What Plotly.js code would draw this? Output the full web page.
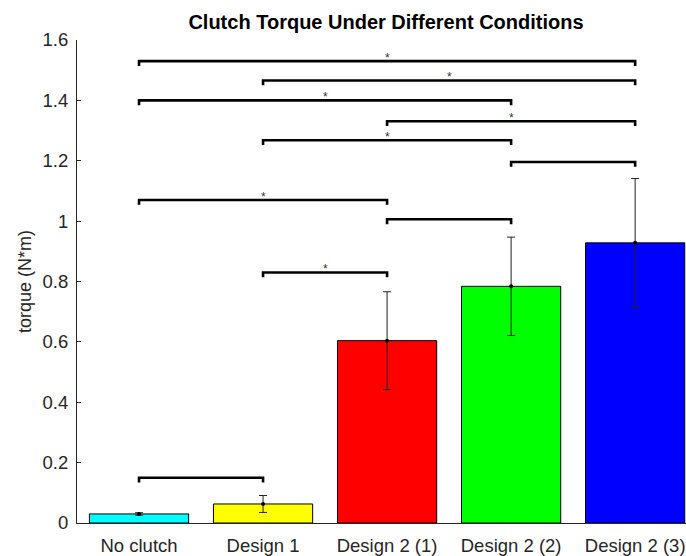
<!DOCTYPE html>
<html>
<head>
<meta charset="utf-8">
<script src="https://cdn.plot.ly/plotly-3.0.1.min.js"></script>
<style>
  html, body { margin: 0; padding: 0; background: #ffffff; overflow: hidden; }
  #chart { width: 686px; height: 556px; }
</style>
</head>
<body>
<div id="chart"></div>
<script>
// ---- data ----
const categories = ["No clutch", "Design 1", "Design 2 (1)", "Design 2 (2)", "Design 2 (3)"];
const positions = [1, 2, 3, 4, 5];
const meanTorque = [0.030, 0.063, 0.604, 0.784, 0.928];
const errTorque = [0.004, 0.028, 0.162, 0.163, 0.213];
const barColors = ["#00ffff", "#ffff00", "#ff0000", "#00ff00", "#0000ff"];

// significance brackets: [from category index, to category index]
const bracketFrom = [1, 2, 3, 1, 4, 2, 3, 1, 2, 1];
const bracketTo   = [2, 3, 4, 3, 5, 4, 5, 4, 5, 5];
const bracketHeight = [0.150, 0.830, 1.006, 1.070, 1.196, 1.268, 1.331, 1.400, 1.466, 1.530];
const bracketLabel = ["", "*", "", "*", "", "*", "*", "*", "*", "*"];

// ---- traces ----
const traces = [];
traces.push({
  type: "bar",
  x: positions,
  y: meanTorque,
  width: 0.8,
  marker: { color: barColors, line: { color: "#000000", width: 1 } },
  hoverinfo: "skip",
  showlegend: false
});
traces.push({
  type: "scatter",
  mode: "markers",
  x: positions,
  y: meanTorque,
  marker: { color: "#000000", size: 4 },
  error_y: { type: "data", array: errTorque, visible: true, color: "#222222", thickness: 1, width: 4 },
  hoverinfo: "skip",
  showlegend: false
});

const tickDrop = 0.016;
for (let i = 0; i < bracketFrom.length; i++) {
  const x1 = positions[bracketFrom[i] - 1];
  const x2 = positions[bracketTo[i] - 1];
  const h = bracketHeight[i];
  traces.push({
    type: "scatter",
    mode: "lines",
    x: [x1, x1, x2, x2],
    y: [h - tickDrop, h, h, h - tickDrop],
    line: { color: "#000000", width: 2.6 },
    hoverinfo: "skip",
    showlegend: false
  });
}

const annotations = [];
for (let i = 0; i < bracketFrom.length; i++) {
  if (bracketLabel[i]) {
    annotations.push({
      x: (positions[bracketFrom[i] - 1] + positions[bracketTo[i] - 1]) / 2,
      y: bracketHeight[i],
      xref: "x",
      yref: "y",
      text: bracketLabel[i],
      showarrow: false,
      xanchor: "center",
      yanchor: "middle",
      yshift: 3,
      font: { family: "Liberation Sans, Arial, sans-serif", size: 12, color: "#333333" }
    });
  }
}

const layout = {
  width: 686,
  height: 556,
  margin: { l: 77, r: 0, t: 40, b: 33 },
  paper_bgcolor: "#ffffff",
  plot_bgcolor: "#ffffff",
  font: { family: "Liberation Sans, Arial, sans-serif", color: "#262626", size: 18 },
  title: {
    text: "<b>Clutch Torque Under Different Conditions</b>",
    font: { family: "Liberation Sans, Arial, sans-serif", size: 20, color: "#000000" },
    x: 386 / 686,
    xanchor: "center",
    y: 1 - 22 / 556,
    yanchor: "middle"
  },
  xaxis: {
    range: [0.5, 5.41],
    tickvals: positions,
    ticktext: categories,
    showgrid: false,
    zeroline: false,
    showline: true,
    linecolor: "#262626",
    linewidth: 1,
    ticks: "",
    ticklabelstandoff: 6,
    tickfont: { size: 18.5, color: "#262626" },
    fixedrange: true
  },
  yaxis: {
    range: [0, 1.6],
    tickvals: [0, 0.2, 0.4, 0.6, 0.8, 1, 1.2, 1.4, 1.6],
    ticktext: ["0", "0.2", "0.4", "0.6", "0.8", "1", "1.2", "1.4", "1.6"],
    showgrid: false,
    zeroline: false,
    showline: true,
    linecolor: "#262626",
    linewidth: 1,
    ticks: "inside",
    ticklen: 4,
    tickcolor: "#262626",
    ticklabelstandoff: 4,
    tickfont: { size: 18.5, color: "#262626" },
    title: { text: "torque (N*m)", font: { size: 18, color: "#262626" }, standoff: 6 },
    fixedrange: true
  },
  annotations: annotations,
  bargap: 0.2
};

Plotly.newPlot("chart", traces, layout, { displayModeBar: false, staticPlot: true });
</script>
</body>
</html>
